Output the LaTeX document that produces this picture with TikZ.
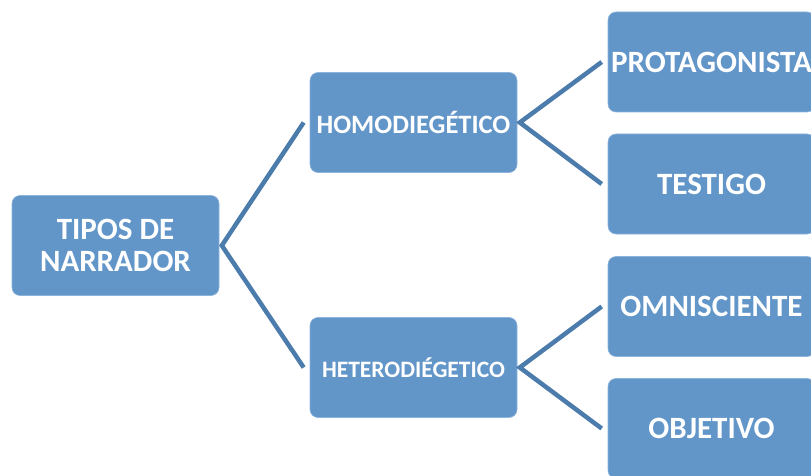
\documentclass[tikz,border=0pt]{standalone}
\usepackage{fontspec}
\setmainfont{Carlito}
\definecolor{boxfill}{RGB}{98,150,201}
\definecolor{boxline}{RGB}{140,180,220}
\definecolor{conn}{RGB}{76,124,172}
\tikzset{
  bx/.style={rectangle, rounded corners=8pt, fill=boxfill, draw=boxline, line width=0.6pt,
    minimum width=207pt, minimum height=100pt, text=white, font=\bfseries, align=center, inner sep=0pt},
  big/.style={font=\fontsize{31}{32}\selectfont\bfseries},
  small/.style={font=\fontsize{23.5}{26}\selectfont\bfseries},
  mid/.style={font=\fontsize{26.5}{28}\selectfont\bfseries},
  cn/.style={draw=conn, line width=4.5pt, line join=miter}
}
\begin{document}
\begin{tikzpicture}[x=1pt,y=1pt]
\useasboundingbox (0,0) rectangle (811,-476);
\node[bx,big] (root) at (115.5,-245.5) {TIPOS DE\\NARRADOR};
\node[bx,mid] (homo) at (413.5,-122.5) {HOMODIEGÉTICO};
\node[bx,small] (hetero) at (413.5,-367.5) {HETERODIÉGETICO};
\node[bx,big] (prot) at (711.5,-62) {PROTAGONISTA};
\node[bx,big] (test) at (711.5,-184) {TESTIGO};
\node[bx,big] (omni) at (711.5,-306.5) {OMNISCIENTE};
\node[bx,big] (obj) at (711.5,-428.5) {OBJETIVO};
\coordinate (v1) at ([xshift=2.5pt]root.east);
\coordinate (v2) at ([xshift=2.5pt]homo.east);
\coordinate (v3) at ([xshift=2.5pt]hetero.east);
\draw[cn] ([xshift=-6pt]homo.west) -- (v1) -- ([xshift=-6pt]hetero.west);
\draw[cn] ([xshift=-6pt]prot.west) -- (v2) -- ([xshift=-6pt]test.west);
\draw[cn] ([xshift=-6pt]omni.west) -- (v3) -- ([xshift=-6pt]obj.west);
\end{tikzpicture}
\end{document}
